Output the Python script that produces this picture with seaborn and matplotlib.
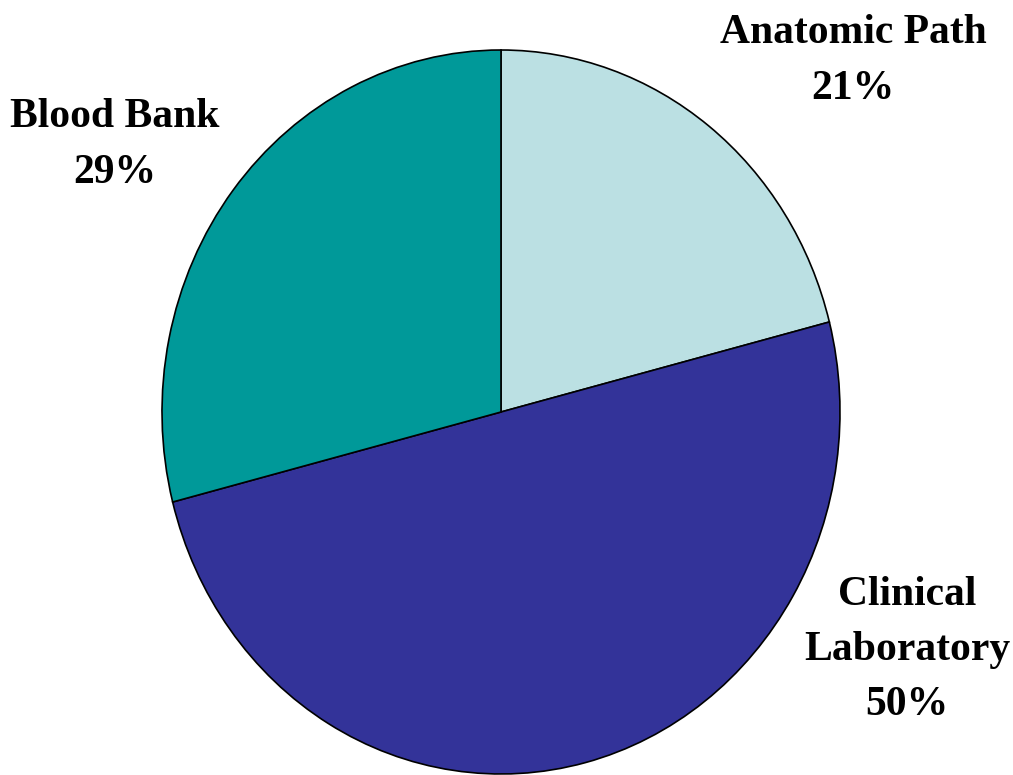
import seaborn as sns
import matplotlib.pyplot as plt

categories = ["Anatomic Path", "Clinical\nLaboratory", "Blood Bank"]
shares = [21, 50, 29]
colors = ["#BBE0E3", "#333399", "#009999"]

sns.set_style("white")
plt.rcParams['font.family'] = ['Liberation Serif', 'DejaVu Serif']
plt.rcParams['text.color'] = 'black'

fig = plt.figure(figsize=(10.13, 7.75), dpi=100)
ax = fig.add_axes([162/1013, 1/775, 678/1013, 724/775])

wedges, _ = ax.pie(shares, colors=colors, startangle=90, counterclock=False,
                   wedgeprops=dict(edgecolor="black", linewidth=1.2))
ax.set_aspect('auto')
ax.set_xlim(-1.0, 1.0)
ax.set_ylim(-1.0, 1.0)
ax.axis('off')

# labels placed where the reference puts them
label_pos = [(853, 61), (907, 650), (115, 145)]
for cat, val, (px, py) in zip(categories, shares, label_pos):
    fig.text(px / 1013, 1 - py / 775, f"{cat}\n{val}%",
             ha="center", va="center", multialignment="center",
             fontsize=30, fontweight="bold", linespacing=1.6, color="black")

fig.savefig("out.png", dpi=100)
